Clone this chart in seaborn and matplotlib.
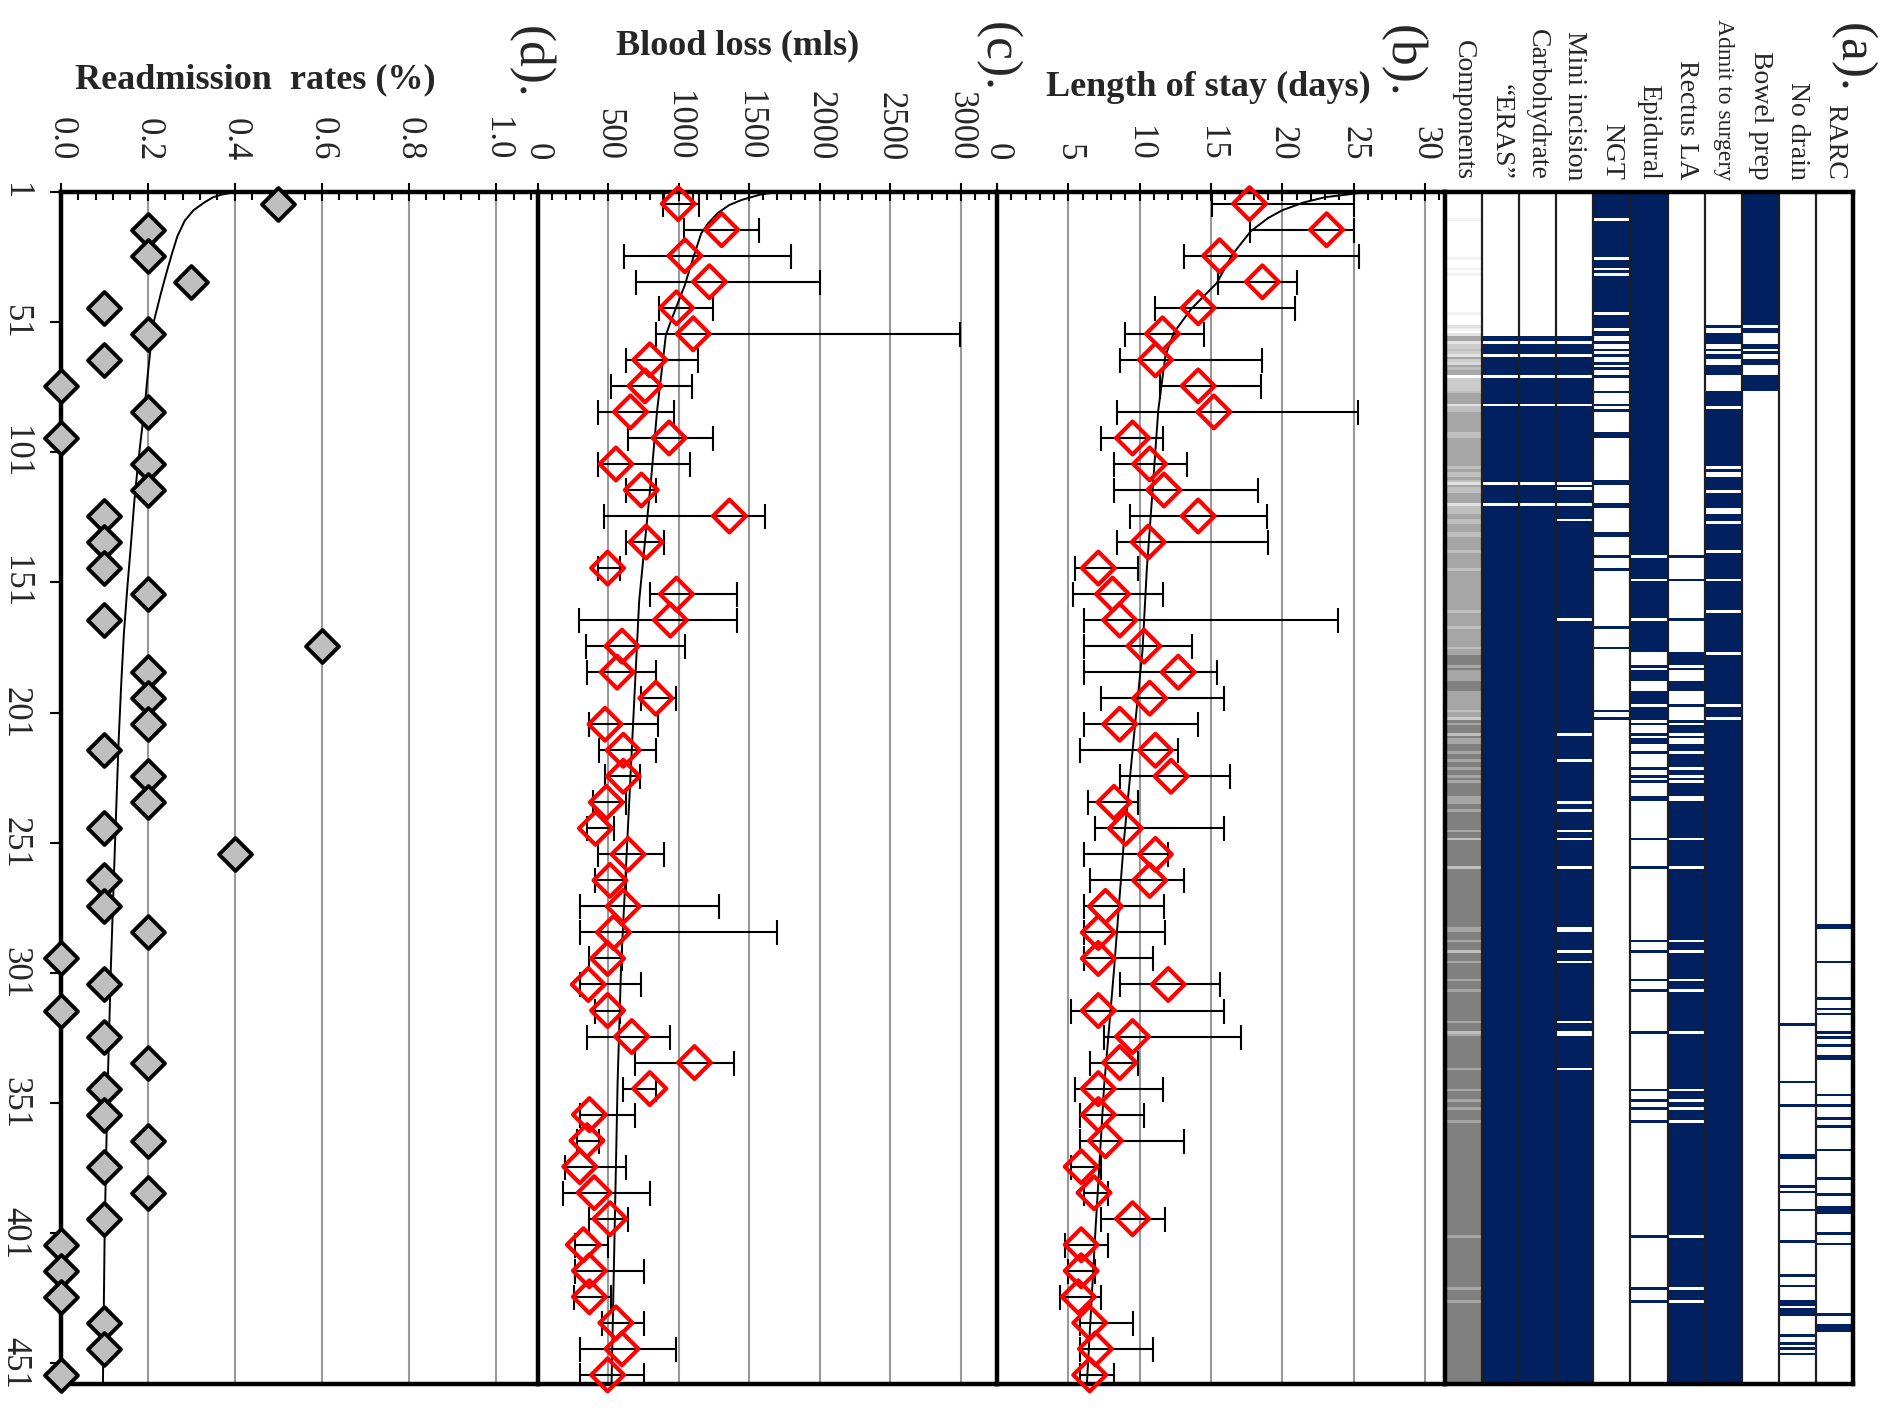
import numpy as np
import pandas as pd
import matplotlib
matplotlib.use("Agg")
import matplotlib.pyplot as plt
import seaborn as sns
from matplotlib.colors import ListedColormap
from matplotlib.ticker import MultipleLocator, AutoMinorLocator, FormatStrFormatter

# ------------------------------------------------------------------ data
n_cases = 456
bin_mid = np.arange(5.5, 460, 10)          # 46 groups of 10 consecutive cases
case_ticks = [1, 51, 101, 151, 201, 251, 301, 351, 401, 451]

# (d) readmission rate per group
readmit = [0.5, 0.2, 0.2, 0.3, 0.1, 0.2, 0.1, 0.0, 0.2, 0.0,
           0.2, 0.2, 0.1, 0.1, 0.1, 0.2, 0.1, 0.6, 0.2, 0.2,
           0.2, 0.1, 0.2, 0.2, 0.1, 0.4, 0.1, 0.1, 0.2, 0.0,
           0.1, 0.0, 0.1, 0.2, 0.1, 0.1, 0.2, 0.1, 0.2, 0.1,
           0.0, 0.0, 0.0, 0.1, 0.1, 0.0]
readmit_curve_case = [1, 2, 3, 5, 8, 12, 18, 25, 32, 40, 50, 60, 71, 85, 96,
                      108, 120, 137, 153, 171, 190, 212, 250, 300, 350, 400, 459]
readmit_curve = [0.40, 0.37, 0.35, 0.33, 0.305, 0.285, 0.268, 0.255, 0.243, 0.23,
                 0.215, 0.207, 0.20, 0.192, 0.184, 0.176, 0.169, 0.161, 0.153,
                 0.145, 0.139, 0.133, 0.125, 0.115, 0.107, 0.101, 0.097]

# (c) blood loss per group: mean, low and high end of the bar
bl_mean = [998, 1306, 1045, 1219, 985, 1104, 796, 762, 659, 933,
           556, 736, 1361, 770, 497, 985, 942, 599, 565, 839,
           479, 608, 608, 488, 411, 642, 514, 608, 539, 497,
           360, 497, 668, 1113, 796, 368, 351, 300, 402, 514,
           325, 368, 368, 556, 599, 497]
bl_lo = [887, 1038, 612, 697, 865, 839, 625, 522, 428, 642,
         428, 625, 471, 625, 428, 796, 291, 342, 351, 736,
         368, 437, 479, 394, 351, 428, 411, 300, 300, 368,
         300, 411, 351, 693, 608, 300, 283, 197, 180, 368,
         265, 265, 257, 454, 300, 300]
bl_hi = [1147, 1572, 1797, 2001, 1241, 2997, 1139, 1096, 967, 1241,
         1079, 839, 1610, 899, 582, 1413, 1413, 1045, 839, 985,
         856, 839, 728, 625, 539, 899, 625, 1284, 1695, 599,
         736, 582, 942, 1396, 839, 693, 437, 625, 796, 642,
         497, 753, 522, 753, 985, 753]
bl_curve_case = [1, 2, 4, 6, 9, 13, 17, 27, 37, 50, 56, 70, 85, 111, 158,
                 205, 251, 298, 343, 389, 459]
bl_curve = [1700, 1580, 1450, 1360, 1280, 1210, 1160, 1100, 1043, 950, 910,
            880, 848, 806, 721, 678, 636, 593, 568, 551, 525]

# (b) length of stay per group
los_mean = [17.7, 23.1, 15.6, 18.6, 14.1, 11.6, 11.1, 14.1, 15.2, 9.5,
            10.7, 11.7, 14.1, 10.6, 7.1, 8.1, 8.6, 10.3, 12.7, 10.7,
            8.6, 11.1, 12.2, 8.2, 9.0, 11.1, 10.7, 7.6, 7.1, 7.1,
            12.0, 7.1, 9.5, 8.6, 7.1, 7.1, 7.6, 5.9, 6.8, 9.5,
            5.9, 5.9, 5.7, 6.5, 6.9, 6.5]
los_lo = [15.1, 17.7, 13.1, 15.5, 11.1, 9.0, 8.6, 11.4, 8.4, 7.3,
          8.2, 8.2, 9.3, 8.4, 5.5, 5.3, 6.1, 6.1, 6.1, 7.3,
          6.1, 5.8, 8.6, 6.4, 6.9, 6.1, 6.5, 6.1, 6.1, 6.1,
          8.6, 5.2, 7.5, 6.5, 5.5, 5.8, 5.8, 5.2, 6.1, 7.3,
          4.8, 5.0, 4.4, 5.8, 5.8, 5.8]
los_hi = [25.0, 25.0, 25.4, 21.0, 20.9, 14.5, 18.6, 18.5, 25.3, 11.6,
          13.3, 18.3, 18.9, 19.0, 9.9, 11.6, 23.9, 13.7, 15.4, 15.9,
          14.1, 12.7, 16.3, 9.9, 15.9, 12.0, 13.1, 11.7, 11.8, 10.9,
          15.6, 15.9, 17.1, 9.9, 11.6, 10.3, 13.1, 7.3, 7.8, 11.8,
          7.8, 6.9, 7.3, 9.5, 10.9, 8.2]
los_curve_case = [1, 2, 3, 5, 8, 11, 16, 25, 36, 46, 55, 64, 85, 116, 146,
                  177, 210, 250, 300, 345, 400, 459]
los_curve = [26.0, 24.5, 23.0, 21.5, 20.0, 19.0, 17.8, 16.5, 15.4, 13.6, 12.4,
             11.8, 11.3, 10.9, 10.5, 10.2, 9.6, 8.9, 8.2, 7.5, 6.9, 6.3]

# (a) components per case: runs of consecutive cases where the item is present
eras_runs = [(56, 57), (59, 62), (64, 70), (72, 81), (83, 111), (113, 119), (121, 456)]
carb_runs = [(56, 57), (59, 62), (64, 70), (72, 81), (83, 111), (113, 119), (121, 456)]
mini_runs = [(56, 57), (59, 62), (64, 70), (72, 81), (83, 111), (113, 113), (115, 119),
             (121, 125), (127, 163), (165, 207), (209, 217), (219, 233), (235, 236),
             (238, 244), (246, 247), (249, 258), (260, 281), (284, 290), (292, 294),
             (296, 317), (319, 321), (324, 335), (337, 456)]
ngt_runs = [(1, 10), (12, 25), (27, 29), (31, 31), (33, 46), (48, 52), (54, 55), (58, 58),
            (61, 61), (63, 63), (66, 66), (68, 68), (71, 71), (77, 77), (82, 82), (84, 84),
            (93, 94), (111, 112), (120, 121), (131, 132), (140, 140), (145, 145),
            (167, 167), (175, 175), (199, 199), (202, 202)]
epidural_runs = [(1, 139), (141, 148), (150, 163), (165, 176), (182, 182), (184, 187),
                 (192, 196), (198, 202), (204, 204), (208, 208), (210, 211), (215, 215),
                 (221, 221), (224, 224), (226, 226), (232, 233), (248, 248), (259, 259),
                 (287, 287), (291, 291), (302, 302), (306, 306), (322, 322), (344, 344),
                 (348, 348), (351, 351), (356, 356), (400, 400), (420, 420), (425, 425)]
rectus_runs = [(140, 140), (149, 149), (164, 164), (177, 181), (183, 183), (188, 191),
               (197, 197), (203, 203), (205, 207), (209, 209), (212, 214), (216, 220),
               (222, 223), (225, 225), (227, 231), (234, 247), (249, 258), (260, 286),
               (288, 290), (292, 301), (303, 305), (307, 321), (323, 343), (345, 347),
               (349, 350), (352, 355), (357, 399), (401, 419), (421, 424), (426, 456)]
admit_runs = [(52, 52), (55, 58), (61, 61), (63, 64), (67, 70), (77, 82), (84, 105),
              (107, 107), (110, 114), (116, 121), (124, 126), (128, 137), (139, 148),
              (150, 160), (162, 176), (178, 196), (198, 201), (203, 456)]
bowel_runs = [(1, 51), (53, 54), (59, 60), (62, 62), (65, 66), (71, 76)]
nodrain_runs = [(319, 319), (341, 341), (350, 350), (369, 370), (381, 381), (383, 383),
                (390, 390), (402, 402), (415, 415), (419, 419), (425, 426), (428, 430),
                (438, 438), (441, 441), (443, 443), (445, 445)]
rarc_runs = [(281, 282), (295, 295), (309, 309), (313, 313), (315, 315), (322, 322),
             (324, 324), (327, 327), (331, 332), (346, 346), (350, 350), (355, 355),
             (358, 358), (367, 367), (378, 378), (384, 384), (389, 391), (399, 399),
             (403, 403), (430, 430), (434, 436)]

col_labels = ["Components", "\u201cERAS\u201d", "Carbohydrate", "Mini incision", "NGT",
              "Epidural", "Rectus LA", "Admit to surgery", "Bowel prep", "No drain", "RARC"]


def flags(runs):
    f = np.zeros(n_cases, dtype=int)
    for a, b in runs:
        f[a - 1:b] = 1
    return f


eras, carb, mini = flags(eras_runs), flags(carb_runs), flags(mini_runs)
ngt, epid, rectus = flags(ngt_runs), flags(epidural_runs), flags(rectus_runs)
admit, bowel = flags(admit_runs), flags(bowel_runs)
nodrain, rarc = flags(nodrain_runs), flags(rarc_runs)
# number of enhanced-recovery items in place for each case
n_items = eras + carb + mini + (1 - ngt) + rectus + admit + (1 - bowel)

NAVY = 8
grid = pd.DataFrame({
    col_labels[0]: n_items,
    col_labels[1]: eras * NAVY, col_labels[2]: carb * NAVY, col_labels[3]: mini * NAVY,
    col_labels[4]: ngt * NAVY, col_labels[5]: epid * NAVY, col_labels[6]: rectus * NAVY,
    col_labels[7]: admit * NAVY, col_labels[8]: bowel * NAVY,
    col_labels[9]: nodrain * NAVY, col_labels[10]: rarc * NAVY,
})
cell_colors = ["#ffffff", "#f2f2f2", "#e3e3e3", "#d9d9d9", "#cccccc",
               "#bfbfbf", "#a6a6a6", "#808080", "#002060"]

# ------------------------------------------------------------------ figure
sns.set_theme(style="white")
plt.rcParams["font.family"] = ["Liberation Serif", "DejaVu Serif"]

W, H = 1887, 1418
fig = plt.figure(figsize=(W / 100, H / 100), dpi=100)
top_px, bot_px = 192, 1384
bot = 1 - bot_px / H
hgt = (bot_px - top_px) / H

ax_d = fig.add_axes([60.7 / W, bot, (537.5 - 60.7) / W, hgt])
ax_c = fig.add_axes([537.5 / W, bot, (997 - 537.5) / W, hgt])
ax_b = fig.add_axes([997 / W, bot, (1445 - 997) / W, hgt])
ax_a = fig.add_axes([1445 / W, bot, (1853 - 1445) / W, hgt])


def style_panel(ax, xmax, major, fmt):
    ax.set_xlim(0, xmax)
    ax.set_ylim(459, 1)
    ax.xaxis.set_major_locator(MultipleLocator(major))
    ax.xaxis.set_minor_locator(AutoMinorLocator(5))
    ax.xaxis.set_major_formatter(FormatStrFormatter(fmt))
    ax.xaxis.tick_top()
    ax.tick_params(axis="x", which="major", direction="inout", length=13, width=1.5,
                   pad=16, labelsize=25, labelrotation=-90, color="black")
    ax.tick_params(axis="x", which="minor", direction="in", length=5.5, width=1.5,
                   top=True, bottom=False, color="black")
    ax.grid(axis="x", which="major", color="#999999", lw=1.5)
    ax.grid(axis="y", visible=False)
    ax.set_axisbelow(True)
    for side in ["left", "top", "bottom"]:
        ax.spines[side].set_linewidth(3.2)
        ax.spines[side].set_color("black")
    ax.spines["right"].set_visible(False)
    ax.set_xlabel("")
    ax.set_ylabel("")


# (d) readmission
ax_d.plot(readmit_curve, readmit_curve_case, color="black", lw=1.4, zorder=3)
sns.scatterplot(x=readmit, y=bin_mid, marker="D", s=280, color="#bfbfbf",
                edgecolor="black", linewidth=2.8, ax=ax_d, zorder=5, clip_on=False)
style_panel(ax_d, 1.095, 0.2, "%.1f")
ax_d.set_yticks(case_ticks)
ax_d.set_yticklabels([str(t) for t in case_ticks])
ax_d.tick_params(axis="y", direction="out", length=8, width=1.5, labelsize=25,
                 labelrotation=-90, left=True, pad=13, color="black")
plt.setp(ax_d.get_yticklabels(), va="center")

# (c) blood loss
bl_m = np.array(bl_mean)
ax_c.errorbar(bl_m, bin_mid, xerr=[bl_m - np.array(bl_lo), np.array(bl_hi) - bl_m],
              fmt="none", ecolor="black", elinewidth=1.5, capsize=9, capthick=1.5, zorder=3)
ax_c.plot(bl_curve, bl_curve_case, color="black", lw=1.4, zorder=3)
sns.scatterplot(x=bl_mean, y=bin_mid, marker="D", s=280, facecolor="none",
                edgecolor="#ff0000", linewidth=3.0, ax=ax_c, zorder=5, clip_on=False)
style_panel(ax_c, 3258, 500, "%d")
ax_c.set_yticks([])

# (b) length of stay
los_m = np.array(los_mean)
ax_b.errorbar(los_m, bin_mid, xerr=[los_m - np.array(los_lo), np.array(los_hi) - los_m],
              fmt="none", ecolor="black", elinewidth=1.5, capsize=9, capthick=1.5, zorder=3)
ax_b.plot(los_curve, los_curve_case, color="black", lw=1.4, zorder=3)
sns.scatterplot(x=los_mean, y=bin_mid, marker="D", s=280, facecolor="none",
                edgecolor="#ff0000", linewidth=3.0, ax=ax_b, zorder=5, clip_on=False)
style_panel(ax_b, 31.4, 5, "%d")
ax_b.set_yticks([])

# (a) components grid
sns.heatmap(grid, cmap=ListedColormap(cell_colors), vmin=-0.5, vmax=8.5, cbar=False,
            xticklabels=False, yticklabels=False, ax=ax_a)
for xb in range(1, len(col_labels)):
    ax_a.axvline(xb, color="#1f1f1f", lw=1.6)
for side in ax_a.spines.values():
    side.set_visible(True)
    side.set_linewidth(3.2)
    side.set_color("black")
ax_a.set_xlabel("")
ax_a.set_ylabel("")

# ------------------------------------------------------------------ text
col_w = (1853 - 1445) / len(col_labels)
for i, lab in enumerate(col_labels):
    fs = 17 if lab == "Admit to surgery" else 20
    fig.text((1445 + (i + 0.5) * col_w) / W, 1 - 180 / H, lab, rotation=-90,
             ha="center", va="bottom", fontsize=fs)

fig.text(255 / W, 1 - 80 / H, "Readmission  rates (%)", ha="center", va="center",
         fontsize=26, fontweight="bold")
fig.text(738 / W, 1 - 46 / H, "Blood loss (mls)", ha="center", va="center",
         fontsize=26, fontweight="bold")
fig.text(1208 / W, 1 - 87 / H, "Length of stay (days)", ha="center", va="center",
         fontsize=26, fontweight="bold")

for x_px, y_px, lab in [(530, 62, "(d)."), (997, 57, "(c)."), (1402, 61, "(b)."),
                        (1852, 58, "(a).")]:
    fig.text(x_px / W, 1 - y_px / H, lab, rotation=-90, ha="center", va="center",
             fontsize=37)

fig.savefig("out.png", dpi=100)
